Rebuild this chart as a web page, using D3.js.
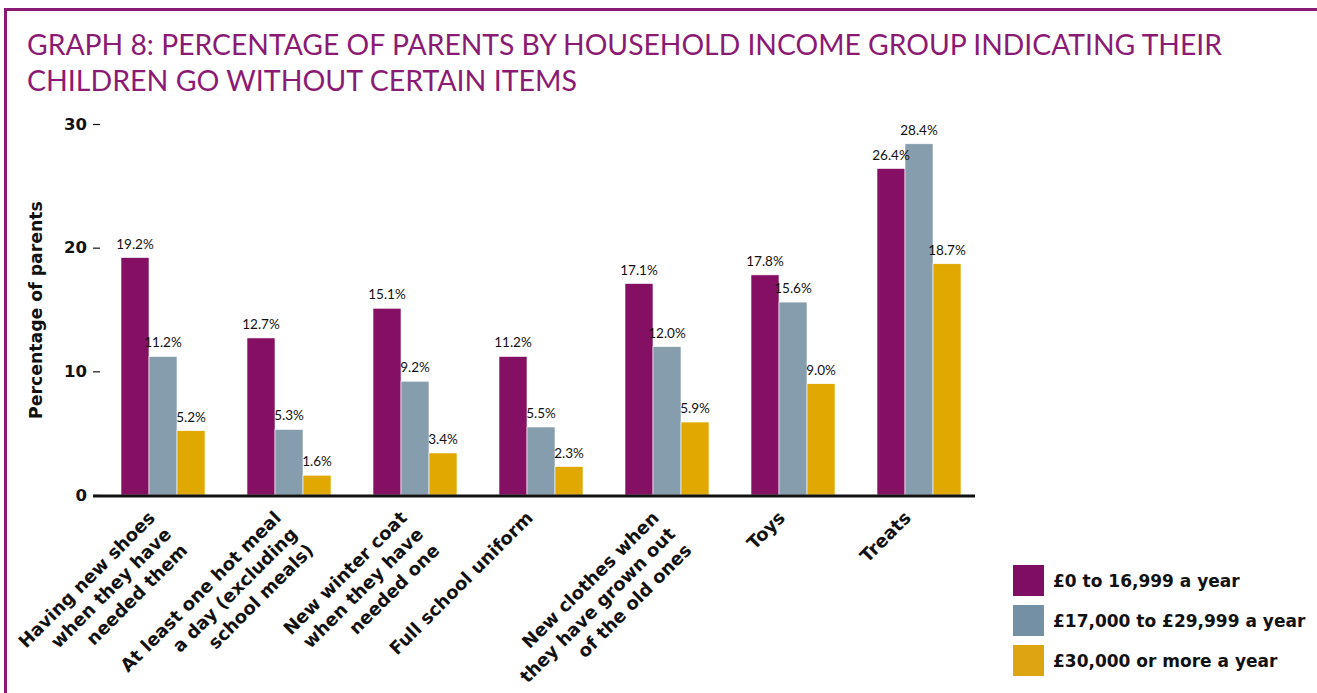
<!DOCTYPE html>
<html>
<head>
<meta charset="utf-8">
<script src="https://cdn.jsdelivr.net/npm/d3@7"></script>
<style>
  body { margin: 0; background: #fff; }
  svg { font-family: Lato, "Open Sans", sans-serif; }
  .bold { font-family: "DejaVu Sans", sans-serif; font-weight: bold; }
</style>
</head>
<body>
<div id="canvas"></div>
<script>
var width = 1317,
	height = 693;

// data
var categories = [
	["Having new shoes", "when they have", "needed them"],
	["At least one hot meal", "a day (excluding", "school meals)"],
	["New winter coat", "when they have", "needed one"],
	["Full school uniform"],
	["New clothes when", "they have grown out", "of the old ones"],
	["Toys"],
	["Treats"]
];
var seriesNames = ["£0 to 16,999 a year", "£17,000 to £29,999 a year", "£30,000 or more a year"];
var lowIncome = [19.2, 12.7, 15.1, 11.2, 17.1, 17.8, 26.4];
var midIncome = [11.2, 5.3, 9.2, 5.5, 12.0, 15.6, 28.4];
var highIncome = [5.2, 1.6, 3.4, 2.3, 5.9, 9.0, 18.7];
var yTicks = [0, 10, 20, 30];
var titleLines = [
	"GRAPH 8: PERCENTAGE OF PARENTS BY HOUSEHOLD INCOME GROUP INDICATING THEIR",
	"CHILDREN GO WITHOUT CERTAIN ITEMS"
];

var colors = ["#851063", "#869dae", "#e0a800"];
var legendColors = ["#7e0d64", "#7490a4", "#dea512"];
var purple = "#8b1a74";

var series = [lowIncome, midIncome, highIncome];

var svg = d3.select("#canvas")
	.append("svg")
		.attr("width", width)
		.attr("height", height);

// frame
svg.append("path")
	.attr("d", "M5.5," + height + "V9.5H" + width)
	.attr("fill", "none")
	.attr("stroke", purple)
	.attr("stroke-width", 3);

// title
var titleWidths = [1195, 550];
svg.append("text")
	.attr("fill", purple)
	.style("font-size", "29.5px")
	.selectAll("tspan")
	.data(titleLines)
	.enter()
	.append("tspan")
	.attr("x", 27)
	.attr("y", function(d, i){ return 55 + i * 36; })
	.attr("textLength", function(d, i){ return titleWidths[i]; })
	.attr("lengthAdjust", "spacingAndGlyphs")
	.text(function(d){ return d; });

var x0 = d3.scaleBand()
	.domain(d3.range(categories.length))
	.range([100, 982])
	.paddingInner(1 / 3)
	.paddingOuter(1 / 6);

var x1 = d3.scaleBand()
	.domain(d3.range(series.length))
	.range([0, x0.bandwidth()]);

var y = d3.scaleLinear()
	.domain([0, 30])
	.range([495, 124]);

// y axis
var yAxis = svg.append("g")
	.attr("transform", "translate(100,0)")
	.call(d3.axisLeft(y).tickValues(yTicks).tickSize(7).tickPadding(6));
yAxis.select(".domain").remove();
yAxis.selectAll(".tick line").attr("stroke", "#111").attr("stroke-width", 1.2);
yAxis.selectAll(".tick text")
	.attr("class", "bold")
	.attr("fill", "#111")
	.attr("font-family", null)
	.attr("font-size", null)
	.style("font-size", "16.5px");

svg.append("text")
	.attr("class", "bold")
	.attr("transform", "translate(42," + 310 + ") rotate(-90)")
	.attr("text-anchor", "middle")
	.attr("fill", "#111")
	.style("font-size", "17.3px")
	.text("Percentage of parents");

// bars
var groups = svg.selectAll(".group")
	.data(categories)
	.enter()
	.append("g")
	.attr("class", "group")
	.attr("transform", function(d, i){ return "translate(" + x0(i) + ",0)"; });

groups.selectAll("rect")
	.data(function(d, i){
		return series.map(function(s, j){ return {s: j, v: s[i]}; });
	})
	.enter()
	.append("rect")
	.attr("x", function(d){ return x1(d.s); })
	.attr("y", function(d){ return y(d.v); })
	.attr("width", x1.bandwidth())
	.attr("height", function(d){ return y(0) - y(d.v); })
	.attr("fill", function(d){ return colors[d.s]; })
	.attr("stroke", "#fff")
	.attr("stroke-width", 0.6);

groups.selectAll(".val")
	.data(function(d, i){
		return series.map(function(s, j){ return {s: j, v: s[i]}; });
	})
	.enter()
	.append("text")
	.attr("class", "val")
	.attr("x", function(d){ return x1(d.s) + x1.bandwidth() / 2; })
	.attr("y", function(d){ return y(d.v) - 9; })
	.attr("text-anchor", "middle")
	.attr("fill", "#111")
	.style("font-size", "13.5px")
	.text(function(d){ return d.v.toFixed(1) + "%"; });

// baseline
svg.append("line")
	.attr("x1", 93)
	.attr("x2", 975)
	.attr("y1", y(0) + 1)
	.attr("y2", y(0) + 1)
	.attr("stroke", "#111")
	.attr("stroke-width", 3);

// category labels
var labels = svg.selectAll(".cat")
	.data(categories)
	.enter()
	.append("text")
	.attr("class", "cat bold")
	.attr("transform", function(d, i){
		return "translate(" + (x0(i) + x0.bandwidth() / 2 - 7) + ",519) rotate(-45)";
	})
	.attr("text-anchor", "end")
	.attr("fill", "#111")
	.style("font-size", "18px");

labels.selectAll("tspan")
	.data(function(d){ return d; })
	.enter()
	.append("tspan")
	.attr("x", 0)
	.attr("dy", function(d, i){ return i === 0 ? 0 : 23; })
	.text(function(d){ return d; });

// legend
var legend = svg.selectAll(".legend")
	.data(seriesNames)
	.enter()
	.append("g")
	.attr("class", "legend")
	.attr("transform", function(d, i){ return "translate(1013," + (565 + i * 40) + ")"; });

legend.append("rect")
	.attr("width", 31)
	.attr("height", 31)
	.attr("fill", function(d, i){ return legendColors[i]; });

legend.append("text")
	.attr("class", "bold")
	.attr("x", 40)
	.attr("y", 22)
	.attr("fill", "#111")
	.style("font-size", "17px")
	.text(function(d){ return d; });
</script>
</body>
</html>
